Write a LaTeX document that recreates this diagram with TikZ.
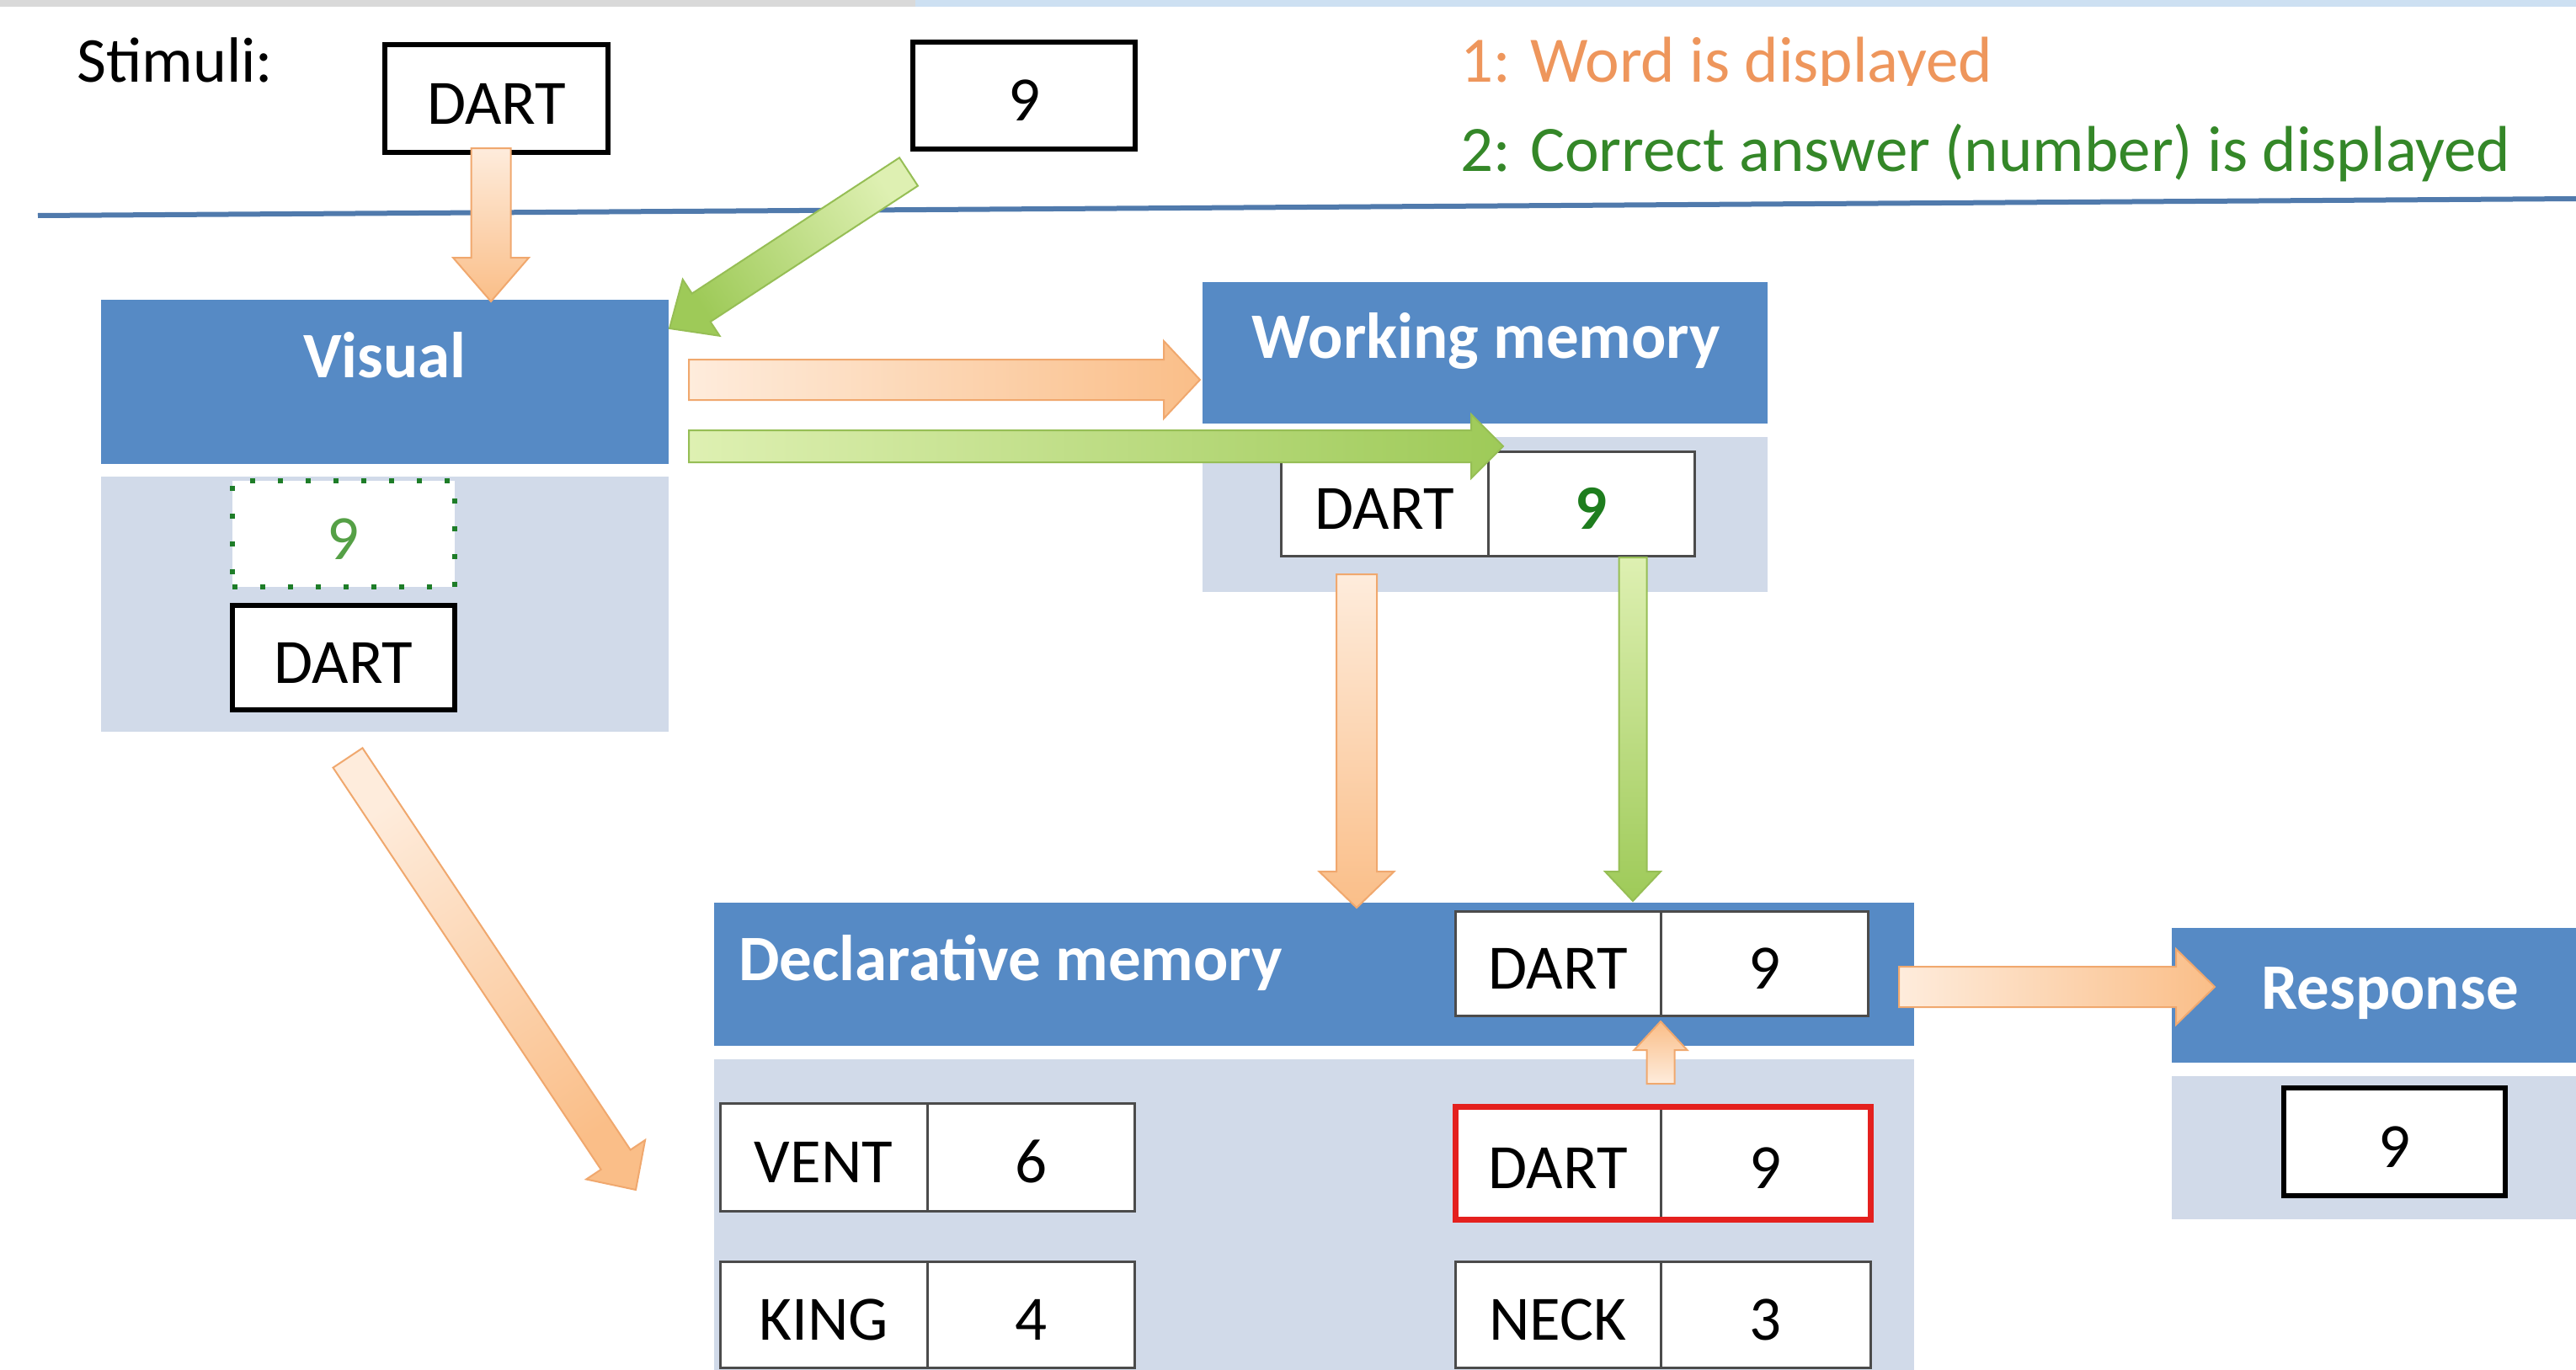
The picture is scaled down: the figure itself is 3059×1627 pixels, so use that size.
\documentclass[tikz,border=0pt]{standalone}
\usepackage{fontspec}
\setmainfont{Carlito}
\usetikzlibrary{calc}
\definecolor{hdrblue}{RGB}{86,138,197}
\definecolor{bodyblue}{RGB}{209,218,233}
\definecolor{lineblue}{RGB}{80,122,172}
\definecolor{cellgray}{RGB}{75,75,75}
\definecolor{legor}{RGB}{238,150,92}
\definecolor{leggr}{RGB}{52,135,40}
\definecolor{ninegr}{RGB}{30,125,30}
\definecolor{dotgr}{RGB}{30,125,40}
\definecolor{lightgr}{RGB}{85,160,70}
\definecolor{redbox}{RGB}{228,32,30}
\definecolor{olight}{RGB}{254,236,220}
\definecolor{odark}{RGB}{250,190,136}
\definecolor{oline}{RGB}{240,168,110}
\definecolor{glight}{RGB}{222,240,178}
\definecolor{gdark}{RGB}{158,202,88}
\definecolor{gline}{RGB}{150,190,85}
\definecolor{topgray}{RGB}{217,217,217}
\definecolor{topblue}{RGB}{205,224,242}

\newcommand\fsz[1]{\fontsize{#1}{#1}\selectfont}
\newcommand\rbox[7]{\node[#2, minimum width={(#5)-(#3)}, minimum height={(#6)-(#4)}] (#1) at ({((#3)+(#5))/2},{((#4)+(#6))/2}) {#7};}
\newcommand\barrow[6]{%
  \coordinate (hb) at ($(#3)!#6pt!(#2)$);
  \path[#1] ($(#2)!#4pt!90:(#3)$) -- ($(hb)!#4pt!-90:(#2)$) -- ($(hb)!#5pt!-90:(#2)$) -- (#3) -- ($(hb)!#5pt!90:(#2)$) -- ($(hb)!#4pt!90:(#2)$) -- ($(#2)!#4pt!-90:(#3)$) -- cycle;}

\tikzset{
 hdr/.style={fill=hdrblue, draw=none, inner sep=0pt, outer sep=0pt},
 bodyb/.style={fill=bodyblue, draw=none, inner sep=0pt, outer sep=0pt},
 title/.style={text=white, font={\fsz{77}\bfseries}, anchor=base, inner sep=0pt},
 txtpos/.style={text height=60pt, text depth=0pt},
 cell/.style={draw=cellgray, line width=3pt, fill=white, inner sep=0pt, outer sep=0pt, font={\fsz{75}}, txtpos},
 stim/.style={draw=black, line width=6pt, fill=white, inner sep=0pt, outer sep=0pt, font={\fsz{75}}, txtpos},
 oarr/.style={draw=oline, line width=2pt, top color=olight, bottom color=odark, shading angle=#1},
 garr/.style={draw=gline, line width=2pt, top color=glight, bottom color=gdark, shading angle=#1},
}

\begin{document}
\begin{tikzpicture}[x=1pt,y=-1pt]
\useasboundingbox (0,0) rectangle (3059,1627);
\clip (0,0) rectangle (3059,1627);

% top strip
\rbox{topA}{fill=topgray, inner sep=0pt}{0}{0}{1087}{8}{}
\rbox{topB}{fill=topblue, inner sep=0pt}{1087}{0}{3059}{8}{}

% stimuli row
\node[anchor=base west, font={\fsz{76}}, inner sep=0pt] (stimlbl) at (91,98) {Stimuli:};
\rbox{stimD}{stim}{457}{53}{722}{181}{DART}
\rbox{stim9}{stim}{1084}{50}{1348}{177}{9}

\begin{scope}
\clip (1700,0) rectangle (2420,102);
\node[anchor=base west, text=legor, font={\fsz{77}}, inner sep=0pt] (leg1) at (1734,98) {1: Word is displayed};
\end{scope}
\node[anchor=base west, text=leggr, font={\fsz{77}}, inner sep=0pt] (leg2) at (1734,203) {2: Correct answer (number) is displayed};

% separator
\coordinate (sepL) at (45,256);
\coordinate (sepR) at (3059,236);
\draw[lineblue, line width=6pt] (sepL) -- (sepR);

% Visual
\rbox{visH}{hdr}{120}{356}{794}{551}{}
\rbox{visB}{bodyb}{120}{566}{794}{869}{}
\node[title] (visT) at (457,448) {Visual};
\rbox{vis9}{draw=dotgr, line width=6pt, dash pattern=on 6pt off 27pt, fill=white, inner sep=0pt, text=lightgr, font={\fsz{75}}, txtpos}{276}{571}{540}{697}{9}
\rbox{visD}{stim}{276}{719}{540}{843}{DART}

% Working memory
\rbox{wmH}{hdr}{1428}{335}{2099}{503}{}
\rbox{wmB}{bodyb}{1428}{519}{2099}{703}{}
\node[title] (wmT) at (1765,425) {Working memory};
\rbox{wmD}{cell}{1521}{536}{1767}{660}{DART}
\rbox{wm9}{cell, text=ninegr, font={\fsz{75}\bfseries}}{1767}{536}{2012}{660}{9}

% Declarative memory
\rbox{dmH}{hdr}{848}{1072}{2273}{1242}{}
\rbox{dmB}{bodyb}{848}{1258}{2273}{1660}{}
\node[title, anchor=base west] (dmT) at (877,1164) {Declarative memory};
\rbox{dmHD}{cell}{1728}{1082}{1972}{1206}{DART}
\rbox{dmH9}{cell}{1972}{1082}{2218}{1206}{9}
\rbox{dmVD}{cell}{855}{1310}{1101}{1438}{VENT}
\rbox{dmV9}{cell}{1101}{1310}{1347}{1438}{6}
\rbox{dmKD}{cell}{855}{1498}{1101}{1624}{KING}
\rbox{dmK9}{cell}{1101}{1498}{1347}{1624}{4}
\rbox{dmRD}{cell}{1728}{1314}{1972}{1448}{DART}
\rbox{dmR9}{cell}{1972}{1314}{2221}{1448}{9}
\draw[redbox, line width=7pt] (dmRD.north west) rectangle (dmR9.south east);
\rbox{dmND}{cell}{1728}{1498}{1972}{1624}{NECK}
\rbox{dmN9}{cell}{1972}{1498}{2221}{1624}{3}

% Response
\rbox{rsH}{hdr}{2579}{1102}{3059}{1262}{}
\rbox{rsB}{bodyb}{2579}{1278}{3059}{1448}{}
\node[title] (rsT) at (2838,1198) {Response};
\rbox{rs9}{stim}{2712}{1292}{2975}{1420}{9}

% arrows
\coordinate (aAt) at (583,176);   \coordinate (aAh) at (583,358);
\coordinate (aBt) at (1079,204);  \coordinate (aBh) at (795,390);
\coordinate (aCt) at (818,451);   \coordinate (aCh) at (1425,451);
\coordinate (aDt) at (818,530);   \coordinate (aDh) at (1785,530);
\coordinate (aEt) at (1611,682);  \coordinate (aEh) at (1611,1078);
\coordinate (aFt) at (1939,662);  \coordinate (aFh) at (1939,1070);
\coordinate (aGt) at (413,900);   \coordinate (aGh) at (755,1413);
\coordinate (aHt) at (2255,1172); \coordinate (aHh) at (2630,1172);
\coordinate (aIt) at (1972,1287); \coordinate (aIh) at (1972,1213);

\barrow{oarr=0}{aAt}{aAh}{23.5}{45}{52}
\barrow{garr=-56.8}{aBt}{aBh}{20}{40}{45}
\barrow{oarr=90}{aCt}{aCh}{24}{46}{43}
\barrow{garr=90}{aDt}{aDh}{19}{38}{38}
\barrow{oarr=0}{aEt}{aEh}{24}{44.5}{43}
\barrow{garr=0}{aFt}{aFh}{16.5}{33}{35}
\barrow{oarr=33.6}{aGt}{aGh}{21}{42}{43}
\barrow{oarr=90}{aHt}{aHh}{24}{45}{46}
\barrow{oarr=180}{aIt}{aIh}{16.5}{31.5}{34}
\end{tikzpicture}
\end{document}
